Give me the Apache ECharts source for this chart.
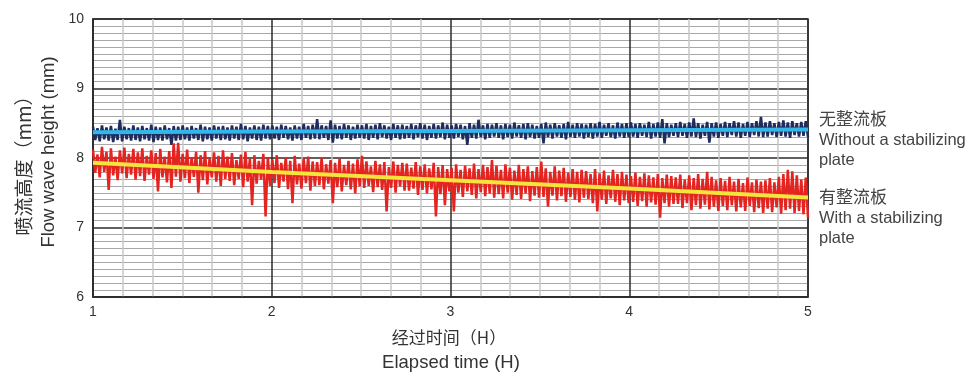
<!DOCTYPE html>
<html>
<head>
<meta charset="utf-8">
<script src="https://cdn.jsdelivr.net/npm/echarts@6/dist/echarts.min.js"></script>
<style>
html,body{margin:0;padding:0;background:#fff;}
#chart{width:973px;height:373px;}
</style>
</head>
<body>
<div id="chart"></div>
<script>
// Tick labels
const xTicks = [1, 2, 3, 4, 5];
const yTicks = [6, 7, 8, 9, 10];

// Without a stabilizing plate: upper and lower noise envelope
const blueHi = [
8.45,8.43,8.47,8.44,8.46,8.42,8.55,8.45,8.43,8.47,
8.44,8.46,8.43,8.48,8.45,8.44,8.47,8.43,8.46,8.45,
8.47,8.44,8.46,8.43,8.48,8.45,8.44,8.47,8.45,8.46,
8.44,8.47,8.45,8.49,8.46,8.44,8.47,8.45,8.48,8.46,
8.47,8.45,8.48,8.46,8.44,8.47,8.45,8.49,8.46,8.48,
8.56,8.47,8.46,8.54,8.48,8.46,8.49,8.47,8.45,8.48,
8.47,8.49,8.46,8.48,8.50,8.47,8.45,8.49,8.47,8.48,
8.46,8.49,8.47,8.50,8.48,8.46,8.49,8.47,8.51,8.48,
8.47,8.49,8.48,8.46,8.50,8.48,8.55,8.47,8.49,8.48,
8.50,8.47,8.49,8.48,8.51,8.47,8.49,8.50,8.48,8.46,
8.49,8.51,8.48,8.50,8.47,8.49,8.52,8.48,8.50,8.49,
8.48,8.50,8.49,8.52,8.48,8.50,8.47,8.51,8.49,8.50,
8.51,8.49,8.50,8.48,8.52,8.49,8.51,8.56,8.50,8.48,
8.50,8.52,8.49,8.51,8.57,8.50,8.48,8.52,8.50,8.51,
8.49,8.52,8.50,8.53,8.51,8.49,8.52,8.50,8.53,8.59,
8.51,8.53,8.50,8.52,8.54,8.51,8.53,8.50,8.52,8.53
];
const blueLo = [
8.26,8.24,8.27,8.25,8.23,8.26,8.24,8.27,8.25,8.26,
8.24,8.27,8.25,8.23,8.26,8.25,8.27,8.19,8.25,8.26,
8.27,8.25,8.28,8.26,8.24,8.27,8.25,8.28,8.26,8.27,
8.25,8.28,8.26,8.27,8.24,8.28,8.26,8.25,8.28,8.27,
8.28,8.26,8.29,8.27,8.25,8.28,8.26,8.29,8.27,8.28,
8.27,8.29,8.26,8.22,8.28,8.27,8.29,8.26,8.28,8.29,
8.28,8.26,8.29,8.27,8.30,8.28,8.26,8.29,8.27,8.28,
8.29,8.27,8.30,8.28,8.26,8.29,8.28,8.30,8.27,8.29,
8.28,8.30,8.27,8.19,8.29,8.28,8.30,8.27,8.29,8.31,
8.29,8.27,8.30,8.28,8.31,8.29,8.27,8.30,8.28,8.29,
8.21,8.30,8.28,8.31,8.29,8.27,8.30,8.29,8.31,8.28,
8.30,8.28,8.31,8.29,8.32,8.30,8.28,8.31,8.29,8.30,
8.31,8.29,8.32,8.30,8.28,8.31,8.29,8.21,8.30,8.32,
8.30,8.32,8.29,8.31,8.30,8.28,8.32,8.22,8.31,8.29,
8.32,8.30,8.33,8.31,8.29,8.32,8.30,8.33,8.31,8.30,
8.31,8.33,8.30,8.32,8.31,8.29,8.33,8.31,8.32,8.30
];

// With a stabilizing plate: upper and lower noise envelope
const redHi = [
8.12,8.05,8.16,8.09,8.14,8.02,8.11,8.15,8.06,8.13,
8.08,8.14,8.03,8.11,8.07,8.13,8.02,8.10,8.21,8.22,
8.06,8.12,8.01,8.09,8.04,8.10,7.99,8.08,8.03,8.11,
8.02,8.07,7.97,8.05,8.09,7.99,8.04,7.96,8.06,8.01,
7.98,8.04,7.93,8.01,7.96,8.03,7.92,7.99,8.02,7.95,
7.94,8.00,7.91,7.97,7.93,7.99,7.90,7.96,7.92,7.98,
8.03,7.95,7.88,7.96,7.91,7.94,7.87,7.95,7.90,7.93,
7.92,7.86,7.94,7.88,7.91,7.85,7.93,7.87,7.90,7.84,
7.86,7.91,7.83,7.89,7.85,7.92,7.84,7.90,7.87,7.97,
7.89,7.83,7.91,7.86,7.82,7.90,7.84,7.88,7.81,7.87,
7.95,7.85,7.80,7.88,7.82,7.86,7.79,7.84,7.80,7.83,
7.81,7.77,7.84,7.78,7.82,7.75,7.83,7.77,7.80,7.76,
7.74,7.79,7.73,7.78,7.75,7.72,7.77,7.71,7.76,7.74,
7.72,7.76,7.69,7.75,7.71,7.77,7.70,7.80,7.73,7.68,
7.71,7.67,7.73,7.66,7.70,7.64,7.72,7.65,7.69,7.66,
7.68,7.71,7.65,7.73,7.77,7.83,7.81,7.75,7.69,7.72
];
const redLo = [
7.79,7.72,7.80,7.54,7.75,7.68,7.78,7.71,7.76,7.69,
7.74,7.67,7.76,7.70,7.52,7.72,7.65,7.57,7.73,7.66,
7.71,7.64,7.73,7.50,7.68,7.62,7.72,7.66,7.60,7.70,
7.67,7.61,7.70,7.58,7.66,7.32,7.63,7.69,7.16,7.60,
7.64,7.57,7.66,7.55,7.35,7.62,7.56,7.64,7.53,7.60,
7.61,7.55,7.63,7.35,7.58,7.52,7.61,7.55,7.49,7.59,
7.57,7.60,7.51,7.58,7.54,7.23,7.57,7.50,7.59,7.53,
7.53,7.56,7.47,7.54,7.49,7.55,7.16,7.48,7.32,7.52,
7.23,7.50,7.44,7.52,7.47,7.42,7.51,7.45,7.49,7.43,
7.48,7.42,7.50,7.40,7.47,7.41,7.49,7.38,7.46,7.43,
7.44,7.30,7.46,7.39,7.45,7.37,7.44,7.40,7.36,7.43,
7.41,7.35,7.23,7.40,7.34,7.42,7.37,7.32,7.39,7.35,
7.37,7.31,7.38,7.30,7.36,7.33,7.14,7.35,7.30,7.34,
7.34,7.28,7.35,7.25,7.32,7.27,7.33,7.26,7.30,7.24,
7.31,7.25,7.32,7.23,7.29,7.24,7.31,7.22,7.28,7.21,
7.27,7.22,7.29,7.20,7.25,7.27,7.21,7.24,7.19,7.14
];

// Mean lines
const meanHours = [1, 2, 3, 4, 5];
const blueMean = [8.37, 8.38, 8.39, 8.40, 8.41];
const redMean = [7.93, 7.80, 7.68, 7.56, 7.43];

// Text
const yNameCn = '喷流高度（mm）';
const yNameEn = 'Flow wave height (mm)';
const xNameCn = '经过时间（H）';
const xNameEn = 'Elapsed time (H)';
const legendBlue = ['无整流板', 'Without a stabilizing', 'plate'];
const legendRed = ['有整流板', 'With a stabilizing', 'plate'];

function zigzag(hi, lo) {
  const n = hi.length * 2;
  const out = [];
  for (let i = 0; i < hi.length; i++) {
    out.push([xTicks[0] + (2 * i) * (xTicks[4] - xTicks[0]) / (n - 1), hi[i]]);
    out.push([xTicks[0] + (2 * i + 1) * (xTicks[4] - xTicks[0]) / (n - 1), lo[i]]);
  }
  return out;
}
function pairs(xs, ys) { return xs.map((x, i) => [x, ys[i]]); }

const FONT = '"Liberation Sans", Arial, sans-serif';
const CJK = '"Noto Sans CJK SC", "Liberation Sans", sans-serif';

const chart = echarts.init(document.getElementById('chart'), null, {renderer: 'canvas'});
chart.setOption({
  animation: false,
  backgroundColor: '#fff',
  grid: {left: 93, right: 165, top: 19, bottom: 76, show: true, borderColor: '#2b2b2b', borderWidth: 1.5, backgroundColor: 'transparent'},
  xAxis: {
    type: 'value', min: xTicks[0], max: xTicks[4], interval: 1,
    axisLine: {show: true, lineStyle: {color: '#2b2b2b', width: 1.5}},
    axisTick: {show: false},
    axisLabel: {color: '#333', fontSize: 14, fontFamily: FONT, margin: 8},
    splitLine: {show: true, lineStyle: {color: '#2b2b2b', width: 1.5}},
    minorTick: {show: false, splitNumber: 6},
    minorSplitLine: {show: true, lineStyle: {color: '#c8c8c8', width: 1.5}}
  },
  yAxis: {
    type: 'value', min: yTicks[0], max: yTicks[4], interval: 1,
    axisLine: {show: true, lineStyle: {color: '#2b2b2b', width: 1.5}},
    axisTick: {show: false},
    axisLabel: {color: '#333', fontSize: 14, fontFamily: FONT, margin: 9},
    splitLine: {show: true, lineStyle: {color: '#2b2b2b', width: 1.5}},
    minorTick: {show: false, splitNumber: 10},
    minorSplitLine: {show: true, lineStyle: {color: '#a8a8a8', width: 1}}
  },
  series: [
    {type: 'line', data: zigzag(blueHi, blueLo), showSymbol: false, silent: true, z: 3,
     lineStyle: {color: '#1e2d5e', width: 2.5}},
    {type: 'line', data: zigzag(redHi, redLo), showSymbol: false, silent: true, z: 3,
     lineStyle: {color: '#e42420', width: 2.5}},
    {type: 'line', data: pairs(meanHours, blueMean), showSymbol: false, silent: true, z: 4,
     lineStyle: {color: '#33b6e8', width: 4}},
    {type: 'line', data: pairs(meanHours, redMean), showSymbol: false, silent: true, z: 4,
     lineStyle: {color: '#f4e53c', width: 4}}
  ],
  graphic: [
    {type: 'text', x: 24, y: 161, rotation: Math.PI / 2, style: {text: yNameCn, font: '19px ' + CJK, fill: '#333', align: 'center', verticalAlign: 'middle'}},
    {type: 'text', x: 49, y: 152, rotation: Math.PI / 2, style: {text: yNameEn, font: '18.5px ' + FONT, fill: '#333', align: 'center', verticalAlign: 'middle'}},
    {type: 'text', x: 449, y: 338, style: {text: xNameCn, font: '17px ' + CJK, fill: '#333', align: 'center', verticalAlign: 'middle'}},
    {type: 'text', x: 451, y: 363, style: {text: xNameEn, font: '18.5px ' + FONT, fill: '#333', align: 'center', verticalAlign: 'middle'}},
    {type: 'text', x: 819, y: 119, style: {text: legendBlue[0], font: '17px ' + CJK, fill: '#444', verticalAlign: 'middle'}},
    {type: 'text', x: 819, y: 140, style: {text: legendBlue[1], font: '16.5px ' + FONT, fill: '#444', verticalAlign: 'middle'}},
    {type: 'text', x: 819, y: 160, style: {text: legendBlue[2], font: '16.5px ' + FONT, fill: '#444', verticalAlign: 'middle'}},
    {type: 'text', x: 819, y: 197, style: {text: legendRed[0], font: '17px ' + CJK, fill: '#444', verticalAlign: 'middle'}},
    {type: 'text', x: 819, y: 218, style: {text: legendRed[1], font: '16.5px ' + FONT, fill: '#444', verticalAlign: 'middle'}},
    {type: 'text', x: 819, y: 238, style: {text: legendRed[2], font: '16.5px ' + FONT, fill: '#444', verticalAlign: 'middle'}}
  ]
});
</script>
</body>
</html>
